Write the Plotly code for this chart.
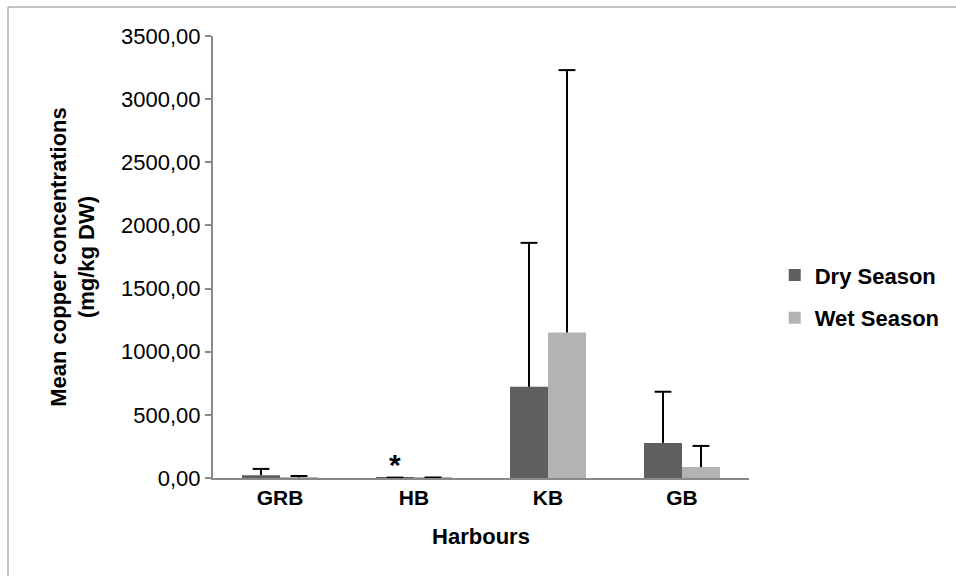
import plotly.graph_objects as go

harbours = ["GRB", "HB", "KB", "GB"]
dry_mean = [22, 3, 722, 278]
dry_err = [50, 0, 1140, 405]
wet_mean = [5, 3, 1152, 87]
wet_err = [11, 1, 2078, 167]
zero_minus = [0, 0, 0, 0]
ytick_vals = [0, 500, 1000, 1500, 2000, 2500, 3000, 3500]

FONT = "Liberation Sans, Arial, sans-serif"
AX = "#898989"
GAP = 0.433

fig = go.Figure()
series = [("Dry Season", dry_mean, dry_err, "#5f5f5f", "dry"),
          ("Wet Season", wet_mean, wet_err, "#b3b3b3", "wet")]
for name, mean, err, col, grp in series:
    fig.add_trace(go.Bar(
        x=harbours, y=mean, name=name, legendgroup=grp, offsetgroup=grp,
        marker=dict(color=col, line=dict(width=0)),
        error_y=dict(type="data", symmetric=False, array=err, arrayminus=zero_minus,
                     color="black", thickness=2, width=0),
    ))
for name, mean, err, col, grp in series:
    tops = [m + e for m, e in zip(mean, err)]
    fig.add_trace(go.Scatter(
        x=harbours, y=tops, mode="markers", showlegend=False, hoverinfo="skip",
        offsetgroup=grp, legendgroup=grp,
        marker=dict(symbol="line-ew", size=12, color="black",
                    line=dict(color="black", width=2)),
    ))

fig.update_layout(
    width=956, height=576,
    margin=dict(l=213, r=207, t=36, b=98, autoexpand=False),
    paper_bgcolor="white", plot_bgcolor="white",
    barmode="group", bargap=GAP, bargroupgap=0,
    scattermode="group", scattergap=GAP,
    separators=",.",
    font=dict(family=FONT, size=22, color="black"),
    showlegend=True,
    legend=dict(x=1.048, xanchor="left", y=0.41, yanchor="middle",
                font=dict(size=22, family=FONT, color="black", weight="bold"),
                tracegroupgap=11, traceorder="grouped",
                bgcolor="rgba(0,0,0,0)", borderwidth=0,
                itemclick=False),
    annotations=[dict(
        x="HB", y=0, xref="x", yref="y", text="<b>*</b>", showarrow=False,
        xshift=-19, yshift=-5, yanchor="bottom", xanchor="center",
        font=dict(size=30, family=FONT, color="black"),
    )],
    shapes=[dict(type="rect", xref="paper", yref="paper",
                 x0=(8 - 213) / 536, x1=2.0, y0=-1.0, y1=(478 - 7) / 442,
                 line=dict(color=AX, width=1), fillcolor="rgba(0,0,0,0)", layer="below")],
)

fig.update_xaxes(
    showline=True, linecolor=AX, linewidth=2, ticks="",
    showgrid=False, zeroline=False,
    tickfont=dict(size=21, family=FONT, weight="bold"),
    title=dict(text="<b>Harbours</b>", font=dict(size=22, family=FONT), standoff=20),
)
fig.update_yaxes(
    range=[0, 3500], tickvals=ytick_vals, tickformat=".2f",
    showline=True, linecolor=AX, linewidth=2, ticks="outside", ticklen=6, tickcolor=AX,
    tickwidth=2, showgrid=False, zeroline=False,
    tickfont=dict(size=22, family=FONT),
    title=dict(text="<b>Mean copper concentrations<br>(mg/kg DW)</b>",
               font=dict(size=22, family=FONT), standoff=20),
)

fig.write_html("out.html")
